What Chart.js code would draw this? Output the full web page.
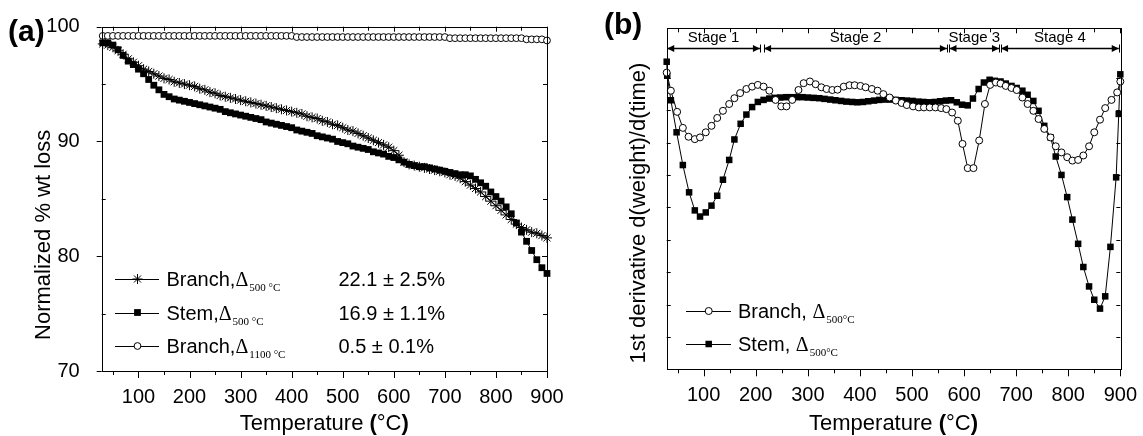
<!DOCTYPE html>
<html>
<head>
<meta charset="utf-8">
<script src="https://cdn.jsdelivr.net/npm/chart.js@4.4.0/dist/chart.umd.min.js"></script>
<style>
  html, body { margin: 0; padding: 0; background: #fff; }
  #tgaChart { position: absolute; left: 0; top: 0; }
  #dtgChart { position: absolute; left: 580px; top: 0; }
</style>
</head>
<body>
<canvas id="tgaChart" width="580" height="436"></canvas>
<canvas id="dtgChart" width="563" height="436"></canvas>
<script>
// ---- (a) weight loss curves, read every 10 °C ----
const tgaTemps = [30, 40, 50, 60, 70, 80, 90, 100, 110, 120, 130, 140, 150, 160, 170, 180, 190, 200, 210, 220,
  230, 240, 250, 260, 270, 280, 290, 300, 310, 320, 330, 340, 350, 360, 370, 380, 390, 400, 410, 420,
  430, 440, 450, 460, 470, 480, 490, 500, 510, 520, 530, 540, 550, 560, 570, 580, 590, 600, 610, 620,
  630, 640, 650, 660, 670, 680, 690, 700, 710, 720, 730, 740, 750, 760, 770, 780, 790, 800, 810, 820,
  830, 840, 850, 860, 870, 880, 890, 900];
const branchTga = [98.5, 98.4, 98.2, 97.9, 97.6, 97.2, 96.9, 96.6, 96.3, 96.1,
  95.9, 95.7, 95.5, 95.4, 95.2, 95.1, 95.0, 94.9, 94.8, 94.6,
  94.5, 94.3, 94.2, 94.0, 93.9, 93.8, 93.7, 93.6, 93.5, 93.4,
  93.3, 93.2, 93.1, 93.0, 92.9, 92.8, 92.7, 92.6, 92.5, 92.4,
  92.2, 92.1, 92.0, 91.8, 91.7, 91.5, 91.4, 91.2, 91.0, 90.9,
  90.7, 90.5, 90.3, 90.1, 89.9, 89.7, 89.5, 89.2, 88.8, 88.2,
  88.0, 87.9, 87.8, 87.7, 87.6, 87.5, 87.4, 87.3, 87.1, 87.0,
  86.8, 86.5, 86.2, 85.9, 85.6, 85.2, 84.8, 84.4, 84.0, 83.6,
  83.2, 82.8, 82.5, 82.3, 82.1, 82.0, 81.8, 81.6];
const stemTga = [98.6, 98.6, 98.4, 98.0, 97.5, 97.0, 96.7, 96.3, 95.9, 95.4,
  94.9, 94.5, 94.1, 93.9, 93.7, 93.6, 93.5, 93.4, 93.3, 93.2,
  93.1, 93.0, 92.9, 92.8, 92.6, 92.5, 92.4, 92.3, 92.2, 92.1,
  92.0, 91.9, 91.7, 91.6, 91.5, 91.4, 91.3, 91.2, 91.0, 90.9,
  90.8, 90.7, 90.5, 90.4, 90.3, 90.2, 90.0, 89.9, 89.8, 89.6,
  89.5, 89.4, 89.3, 89.1, 89.0, 88.9, 88.7, 88.6, 88.4, 88.2,
  88.0, 87.9, 87.8, 87.8, 87.7, 87.6, 87.5, 87.4, 87.3, 87.2,
  87.1, 87.1, 87.0, 86.7, 86.4, 86.1, 85.6, 85.2, 84.8, 84.3,
  83.7, 82.9, 82.1, 81.3, 80.5, 79.7, 79.0, 78.5];
const branch1100Tga = [99.2, 99.2, 99.2, 99.2, 99.2, 99.2, 99.2, 99.2, 99.2, 99.2,
  99.2, 99.2, 99.2, 99.2, 99.2, 99.2, 99.2, 99.2, 99.2, 99.2,
  99.2, 99.2, 99.2, 99.2, 99.2, 99.2, 99.2, 99.2, 99.2, 99.2,
  99.2, 99.2, 99.2, 99.2, 99.2, 99.2, 99.2, 99.2, 99.1, 99.1,
  99.1, 99.1, 99.1, 99.1, 99.1, 99.1, 99.1, 99.1, 99.1, 99.1,
  99.1, 99.1, 99.1, 99.1, 99.1, 99.1, 99.1, 99.1, 99.1, 99.1,
  99.1, 99.1, 99.1, 99.1, 99.1, 99.1, 99.1, 99.1, 99.0, 99.0,
  99.0, 99.0, 99.0, 99.0, 99.0, 99.0, 99.0, 99.0, 99.0, 99.0,
  99.0, 99.0, 99.0, 98.9, 98.9, 98.9, 98.9, 98.8];
const tgaLabels = ['Branch,', 'Stem,', 'Branch,'];
const tgaSubs = ['500 °C', '500 °C', '1100 °C'];
const tgaLosses = ['22.1 ± 2.5%', '16.9 ± 1.1%', '0.5 ± 0.1%'];

// ---- (b) derivative curves (arbitrary units, axis unlabeled) ----
const derivBranchT = [29, 37, 49, 60, 71, 83, 93, 104, 115, 126, 137, 149, 159, 170, 182, 193, 204, 215, 226, 238,
  249, 259, 270, 282, 292, 304, 315, 326, 336, 347, 357, 369, 380, 390, 401, 411, 423, 434, 445, 457,
  469, 480, 490, 502, 513, 523, 534, 545, 556, 566, 577, 588, 597, 607, 618, 629, 640, 650, 661, 670,
  680, 691, 701, 712, 722, 733, 743, 754, 766, 776, 787, 798, 808, 819, 829, 840, 850, 861, 871, 883,
  894, 900];
const derivBranchV = [87.0, 81.7, 75.5, 70.8, 68.2, 67.5, 68.0, 69.5, 71.4, 73.7, 75.8, 77.8, 79.5, 81.0, 82.2, 82.9, 83.4, 82.9, 81.7, 79.0,
  77.1, 77.1, 79.0, 81.9, 83.9, 84.4, 83.6, 82.7, 82.2, 81.9, 82.0, 82.9, 83.3, 83.3, 83.1, 82.7, 82.2, 81.7, 80.7, 79.7,
  78.8, 78.1, 77.5, 77.1, 76.8, 76.8, 76.8, 76.8, 76.6, 76.3, 75.3, 72.9, 66.1, 59.0, 59.0, 67.1, 77.8, 83.4, 84.1, 83.8,
  83.1, 82.5, 81.9, 79.7, 77.8, 75.8, 73.4, 70.5, 68.0, 65.4, 63.6, 62.2, 61.2, 61.4, 62.7, 65.4, 69.5, 73.2, 76.6, 79.0,
  81.2, 84.4];
const derivStemT = [29, 30, 37, 48, 60, 72, 83, 93, 104, 115, 126, 137, 149, 159, 171, 182, 193, 204, 215, 226,
  237, 247, 258, 268, 279, 290, 300, 311, 322, 332, 343, 353, 364, 374, 385, 395, 406, 416, 427, 437,
  448, 459, 469, 480, 490, 501, 512, 522, 533, 544, 554, 565, 575, 586, 596, 607, 617, 628, 638, 649,
  659, 670, 680, 691, 701, 712, 722, 733, 743, 754, 766, 776, 787, 798, 808, 819, 829, 840, 850, 861,
  871, 881, 892, 897, 900];
const derivStemV = [90.2, 86.1, 78.9, 69.5, 59.9, 51.9, 46.6, 44.8, 46.0, 48.0, 50.9, 55.6, 61.4, 67.4, 72.0, 74.7, 76.9, 78.4, 79.0, 79.4,
  79.6, 79.7, 79.8, 79.8, 79.8, 79.8, 79.7, 79.6, 79.5, 79.3, 79.1, 78.9, 78.7, 78.5, 78.4, 78.3, 78.4, 78.6, 78.8, 79.0,
  79.1, 79.1, 79.0, 78.9, 78.8, 78.7, 78.5, 78.4, 78.3, 78.4, 78.6, 78.8, 78.9, 78.3, 77.6, 77.4, 79.4, 82.2, 84.1, 84.9,
  84.6, 84.4, 83.8, 83.1, 82.5, 81.7, 80.5, 78.7, 75.8, 71.4, 68.0, 62.4, 57.0, 50.5, 43.9, 36.8, 30.0, 24.3, 20.4, 17.8,
  21.4, 35.9, 56.3, 74.9, 86.5];
const derivLabels = ['Branch, ', 'Stem, '];
const stageNames = ['Stage 1', 'Stage 2', 'Stage 3', 'Stage 4'];
const stageFrom = [30, 216, 572, 671];
const stageTo = [208, 567, 667, 897];

// tick labels
const tempTicks = [100, 200, 300, 400, 500, 600, 700, 800, 900];
const wtTicks = [70, 80, 90, 100];

const SANS = "'Liberation Sans', Arial, sans-serif";
const SERIF = "'Liberation Serif', 'Times New Roman', serif";
Chart.defaults.font.family = SANS;
Chart.defaults.color = '#000';

function pairs(xs, ys) {
  return xs.map((t, i) => ({ x: t, y: ys[i] }));
}

function crisp(v) { return Math.round(v) + 0.5; }

// label like "Branch,Δ500 °C" with serif delta and subscript
function deltaText(ctx, x, base, name, sub) {
  ctx.font = '20px ' + SANS;
  ctx.fillText(name, x, base);
  x += ctx.measureText(name).width;
  ctx.font = '20px ' + SERIF;
  ctx.fillText('Δ', x, base);
  x += ctx.measureText('Δ').width + 1;
  ctx.font = '11px ' + SERIF;
  ctx.fillText(sub, x, base + 5);
}

function tempTitle(ctx, cx, base) {
  const parts = [['Temperature ', '22px '], ['(', 'bold 22px '], ['°C', '22px '], [')', 'bold 22px ']];
  let w = 0;
  parts.forEach(p => { ctx.font = p[1] + SANS; w += ctx.measureText(p[0]).width; });
  let x = cx - w / 2;
  ctx.textAlign = 'left';
  parts.forEach(p => { ctx.font = p[1] + SANS; ctx.fillText(p[0], x, base); x += ctx.measureText(p[0]).width; });
}

function drawXTicks(ctx, a, x) {
  for (let t = 50; t <= 900; t += 50) {
    const px = crisp(x.getPixelForValue(t));
    const major = t % 100 === 0;
    ctx.beginPath();
    ctx.moveTo(px, a.bottom); ctx.lineTo(px, a.bottom + (major ? 7 : 4));
    ctx.moveTo(px, a.top); ctx.lineTo(px, a.top + (major ? 5 : 4));
    ctx.stroke();
  }
}

const tgaFrame = {
  id: 'tgaFrame',
  afterDraw(chart) {
    const { ctx, chartArea: a, scales: { x, y } } = chart;
    ctx.save();
    ctx.strokeStyle = '#000';
    ctx.fillStyle = '#000';
    ctx.lineWidth = 1;
    ctx.strokeRect(crisp(a.left), crisp(a.top), Math.round(a.right - a.left), Math.round(a.bottom - a.top));
    drawXTicks(ctx, a, x);
    for (let v = 70; v <= 100; v += 5) {
      const py = crisp(y.getPixelForValue(v));
      const major = v % 10 === 0;
      ctx.beginPath();
      if (major) { ctx.moveTo(a.left, py); ctx.lineTo(a.left - 5, py); }
      else { ctx.moveTo(a.left, py); ctx.lineTo(a.left + 4, py); }
      ctx.moveTo(a.right, py); ctx.lineTo(a.right - (major ? 5 : 4), py);
      ctx.stroke();
    }

    // axis titles
    ctx.textBaseline = 'alphabetic';
    tempTitle(ctx, (a.left + a.right) / 2, 430);
    ctx.save();
    ctx.translate(44, (a.top + a.bottom) / 2 + 36);
    ctx.rotate(-Math.PI / 2);
    ctx.textAlign = 'center';
    ctx.textBaseline = 'middle';
    ctx.font = '22px ' + SANS;
    ctx.fillText('Normalized % wt loss', 0, 0);
    ctx.restore();

    ctx.font = 'bold 30px ' + SANS;
    ctx.textAlign = 'left';
    ctx.fillText('(a)', 8, 41);

    // legend
    const styles = [
      { pointStyle: 'star', radius: 5, borderWidth: 1, fill: '#000' },
      { pointStyle: 'rect', radius: 4.8, borderWidth: 0, fill: '#000' },
      { pointStyle: 'circle', radius: 3.4, borderWidth: 1, fill: '#fff' }
    ];
    const bases = [286, 319.5, 353];
    tgaLabels.forEach((lab, i) => {
      const cy = bases[i] - 7;
      ctx.beginPath();
      ctx.moveTo(115, crisp(cy)); ctx.lineTo(159, crisp(cy));
      ctx.stroke();
      ctx.fillStyle = styles[i].fill;
      Chart.helpers.drawPoint(ctx, { pointStyle: styles[i].pointStyle, radius: styles[i].radius, borderWidth: styles[i].borderWidth, rotation: 0 }, 137.5, cy);
      ctx.fillStyle = '#000';
      deltaText(ctx, 166.5, bases[i], lab, tgaSubs[i]);
      ctx.font = '20px ' + SANS;
      ctx.fillText(tgaLosses[i], 338.5, bases[i]);
    });
    ctx.restore();
  }
};

const dtgFrame = {
  id: 'dtgFrame',
  afterDraw(chart) {
    const { ctx, chartArea: a, scales: { x, y } } = chart;
    ctx.save();
    ctx.strokeStyle = '#000';
    ctx.fillStyle = '#000';
    ctx.lineWidth = 1;
    ctx.strokeRect(crisp(a.left), crisp(a.top), Math.round(a.right - a.left), Math.round(a.bottom - a.top));
    drawXTicks(ctx, a, x);
    for (let v = 9.5; v < 90; v += 9.5) {
      const py = crisp(y.getPixelForValue(v));
      ctx.beginPath();
      ctx.moveTo(a.left, py); ctx.lineTo(a.left + 4, py);
      ctx.moveTo(a.right, py); ctx.lineTo(a.right - 4, py);
      ctx.stroke();
    }

    // stage arrows
    const ay = crisp(a.top + 19.5);
    ctx.lineWidth = 1.5;
    stageNames.forEach((name, i) => {
      const x1 = x.getPixelForValue(stageFrom[i]);
      const x2 = x.getPixelForValue(stageTo[i]);
      ctx.beginPath();
      ctx.moveTo(x1, ay); ctx.lineTo(x2, ay);
      ctx.stroke();
      ctx.beginPath();
      ctx.moveTo(x1, ay); ctx.lineTo(x1 + 7, ay - 3.5); ctx.lineTo(x1 + 7, ay + 3.5); ctx.closePath();
      ctx.moveTo(x2, ay); ctx.lineTo(x2 - 7, ay - 3.5); ctx.lineTo(x2 - 7, ay + 3.5); ctx.closePath();
      ctx.fill();
      ctx.lineWidth = 1;
      ctx.beginPath();
      ctx.moveTo(crisp(x1), ay - 4); ctx.lineTo(crisp(x1), ay + 4);
      ctx.moveTo(crisp(x2), ay - 4); ctx.lineTo(crisp(x2), ay + 4);
      ctx.stroke();
      ctx.lineWidth = 1.5;
      ctx.font = '15px ' + SANS;
      ctx.textAlign = 'center';
      ctx.textBaseline = 'middle';
      ctx.fillText(name, (x1 + x2) / 2, a.top + 10);
    });
    ctx.lineWidth = 1;

    // axis titles
    ctx.textBaseline = 'alphabetic';
    tempTitle(ctx, (a.left + a.right) / 2, 430);
    ctx.save();
    ctx.translate(59, 213);
    ctx.rotate(-Math.PI / 2);
    ctx.textAlign = 'center';
    ctx.textBaseline = 'middle';
    ctx.font = '22px ' + SANS;
    ctx.fillText('1st derivative d(weight)/d(time)', 0, 0);
    ctx.restore();

    ctx.font = 'bold 30px ' + SANS;
    ctx.textAlign = 'left';
    ctx.fillText('(b)', 24, 34);

    // legend
    const styles = [
      { pointStyle: 'circle', radius: 3.5, borderWidth: 1, fill: '#fff' },
      { pointStyle: 'rect', radius: 4.6, borderWidth: 0, fill: '#000' }
    ];
    const bases = [318, 351];
    derivLabels.forEach((lab, i) => {
      const cy = bases[i] - 7;
      ctx.beginPath();
      ctx.moveTo(106, crisp(cy)); ctx.lineTo(151, crisp(cy));
      ctx.stroke();
      ctx.fillStyle = styles[i].fill;
      Chart.helpers.drawPoint(ctx, { pointStyle: styles[i].pointStyle, radius: styles[i].radius, borderWidth: styles[i].borderWidth, rotation: 0 }, 128.7, cy);
      ctx.fillStyle = '#000';
      deltaText(ctx, 158, bases[i], lab, '500°C');
    });
    ctx.restore();
  }
};

function xScale(minT, h) {
  return {
    type: 'linear', min: minT, max: 900,
    afterBuildTicks: s => { s.ticks = tempTicks.map(v => ({ value: v })); },
    afterFit: s => { s.height = h; },
    grid: { display: false }, border: { display: false },
    ticks: { padding: 6, font: { size: 20 }, color: '#000', autoSkip: false, maxRotation: 0 }
  };
}

const lineBase = { borderColor: '#000', borderWidth: 1, tension: 0, clip: false, pointBorderColor: '#000' };

new Chart(document.getElementById('tgaChart'), {
  type: 'line',
  data: {
    datasets: [
      Object.assign({ data: pairs(tgaTemps, branch1100Tga), pointStyle: 'circle', pointRadius: 3.4, pointBackgroundColor: '#fff', pointBorderWidth: 1 }, lineBase),
      Object.assign({ data: pairs(tgaTemps, stemTga), pointStyle: 'rect', pointRadius: 4.8, pointBackgroundColor: '#000', pointBorderWidth: 0 }, lineBase),
      Object.assign({ data: pairs(tgaTemps, branchTga), pointStyle: 'star', pointRadius: 5, pointBackgroundColor: '#000', pointBorderWidth: 1 }, lineBase)
    ]
  },
  options: {
    responsive: false, animation: false, events: [],
    layout: { padding: { top: 26.7, right: 33, left: 0, bottom: 0 } },
    plugins: { legend: { display: false }, tooltip: { enabled: false } },
    scales: {
      x: xScale(28, 65),
      y: {
        min: 70, max: 100,
        afterBuildTicks: s => { s.ticks = wtTicks.map(v => ({ value: v })); },
        afterFit: s => { s.width = 101.7; },
        grid: { display: false }, border: { display: false },
        ticks: { padding: 14, font: { size: 20 }, color: '#000' }
      }
    }
  },
  plugins: [tgaFrame]
});

new Chart(document.getElementById('dtgChart'), {
  type: 'line',
  data: {
    datasets: [
      Object.assign({ data: pairs(derivBranchT, derivBranchV), pointStyle: 'circle', pointRadius: 3.5, pointBackgroundColor: '#fff', pointBorderWidth: 1 }, lineBase),
      Object.assign({ data: pairs(derivStemT, derivStemV), pointStyle: 'rect', pointRadius: 4.6, pointBackgroundColor: '#000', pointBorderWidth: 0 }, lineBase)
    ]
  },
  options: {
    responsive: false, animation: false, events: [],
    layout: { padding: { top: 28.3, right: 19, left: 0, bottom: 0 } },
    plugins: { legend: { display: false }, tooltip: { enabled: false } },
    scales: {
      x: xScale(29, 66.7),
      y: {
        min: 0, max: 100,
        afterFit: s => { s.width = 86.7; },
        grid: { display: false }, border: { display: false },
        ticks: { display: false }
      }
    }
  },
  plugins: [dtgFrame]
});
</script>
</body>
</html>
